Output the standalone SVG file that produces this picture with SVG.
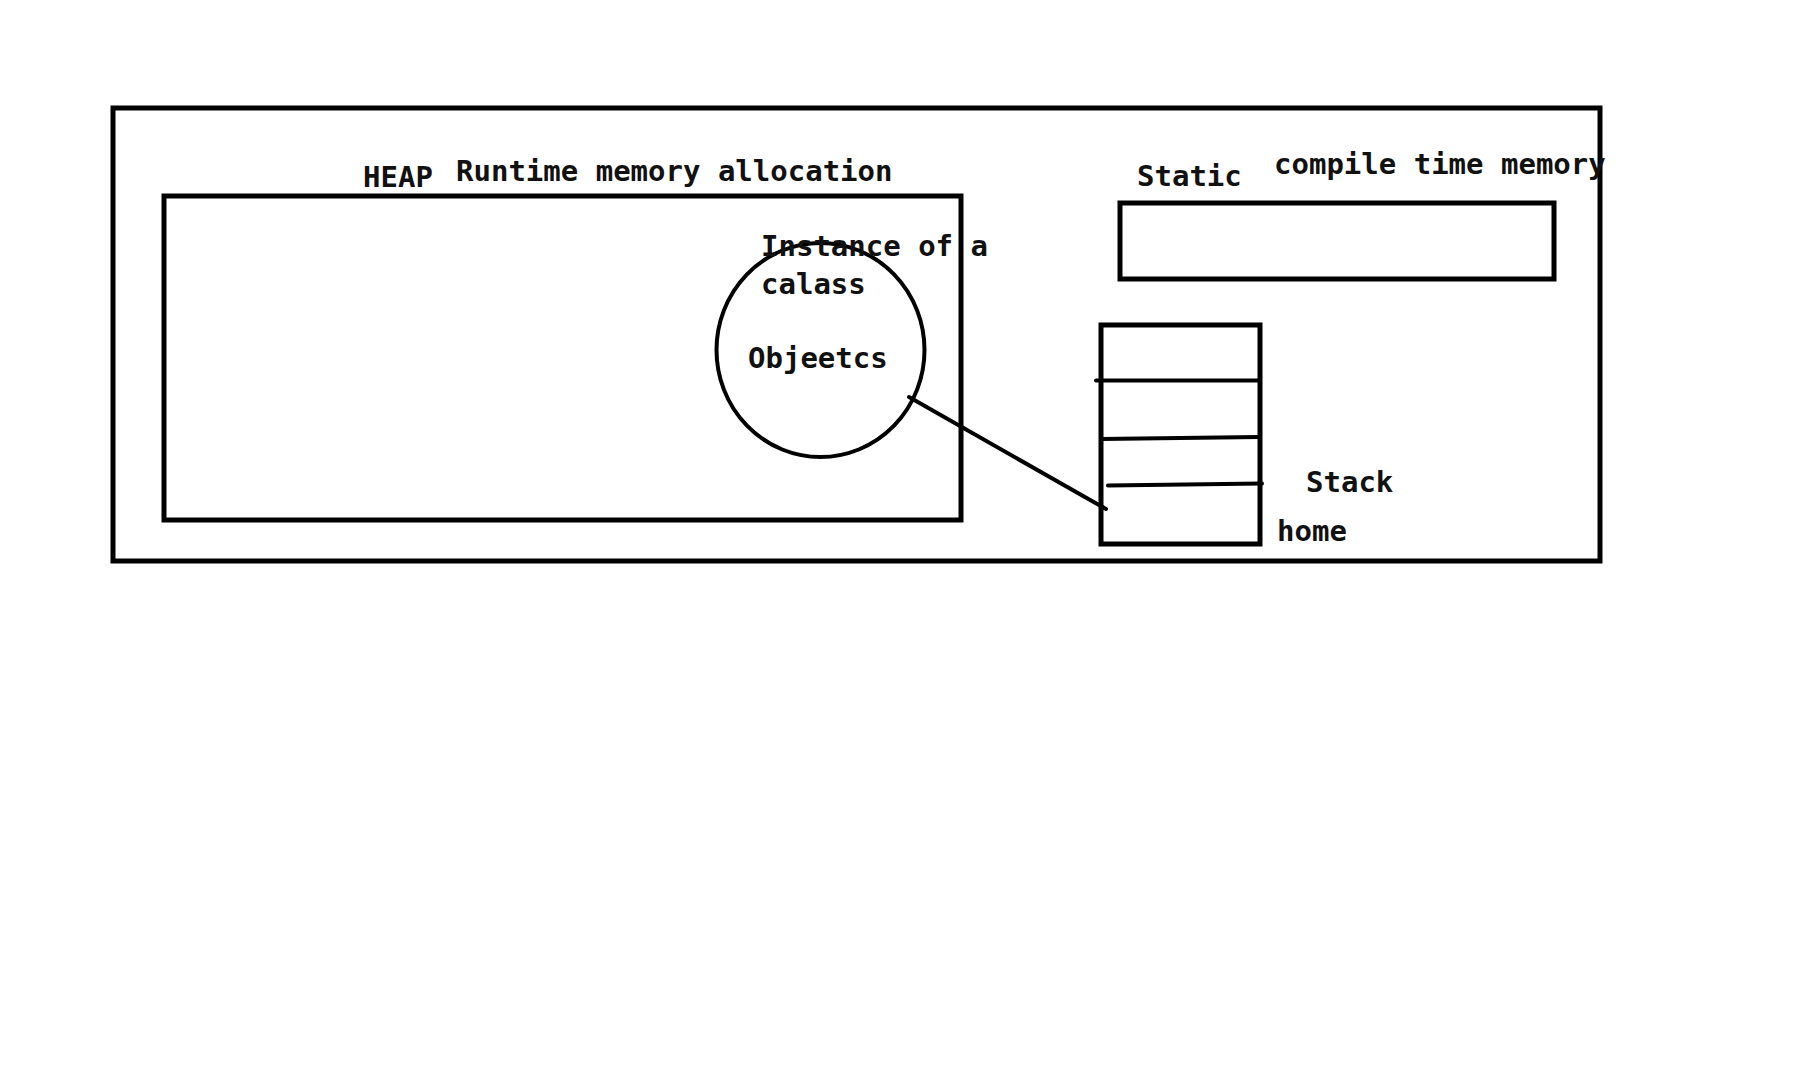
<svg xmlns="http://www.w3.org/2000/svg" width="1806" height="1082" viewBox="0 0 1806 1082">
<style>
.box{fill:none;stroke:#000;stroke-width:5}
.ln{fill:none;stroke:#000;stroke-width:4;stroke-linecap:round}
.t{font-family:"DejaVu Sans Mono","Liberation Mono",monospace;font-size:29px;font-weight:bold;fill:#111}
</style>
<rect width="1806" height="1082" fill="#fff"/>
<g id="outer"><rect class="box" x="113" y="108" width="1487" height="453"/></g>
<g id="heap">
<rect class="box" x="164" y="196" width="797" height="324"/>
<text class="t" x="363" y="187">HEAP</text>
<text class="t" x="456" y="181">Runtime memory allocation</text>
</g>
<g id="object">
<ellipse cx="820.5" cy="350" rx="104" ry="107" fill="none" stroke="#000" stroke-width="4"/>
<text class="t" x="761" y="256">Instance of a</text>
<text class="t" x="761" y="294">calass</text>
<text class="t" x="748" y="368">Objeetcs</text>
</g>
<g id="static">
<rect class="box" x="1120" y="203" width="434" height="76"/>
<text class="t" x="1137" y="186">Static</text>
<text class="t" x="1274" y="174">compile time memory</text>
</g>
<g id="stack">
<rect class="box" x="1101" y="325" width="159" height="219"/>
<path class="ln" d="M1096 380.5 L1259 380.5"/>
<path class="ln" d="M1101 439 L1259 437"/>
<path class="ln" d="M1108 485.5 L1262 483.5"/>
<text class="t" x="1306" y="492">Stack</text>
<text class="t" x="1277" y="541">home</text>
</g>
<g id="connectors">
<path class="ln" d="M909 397 L1106 509"/>
</g>
</svg>
